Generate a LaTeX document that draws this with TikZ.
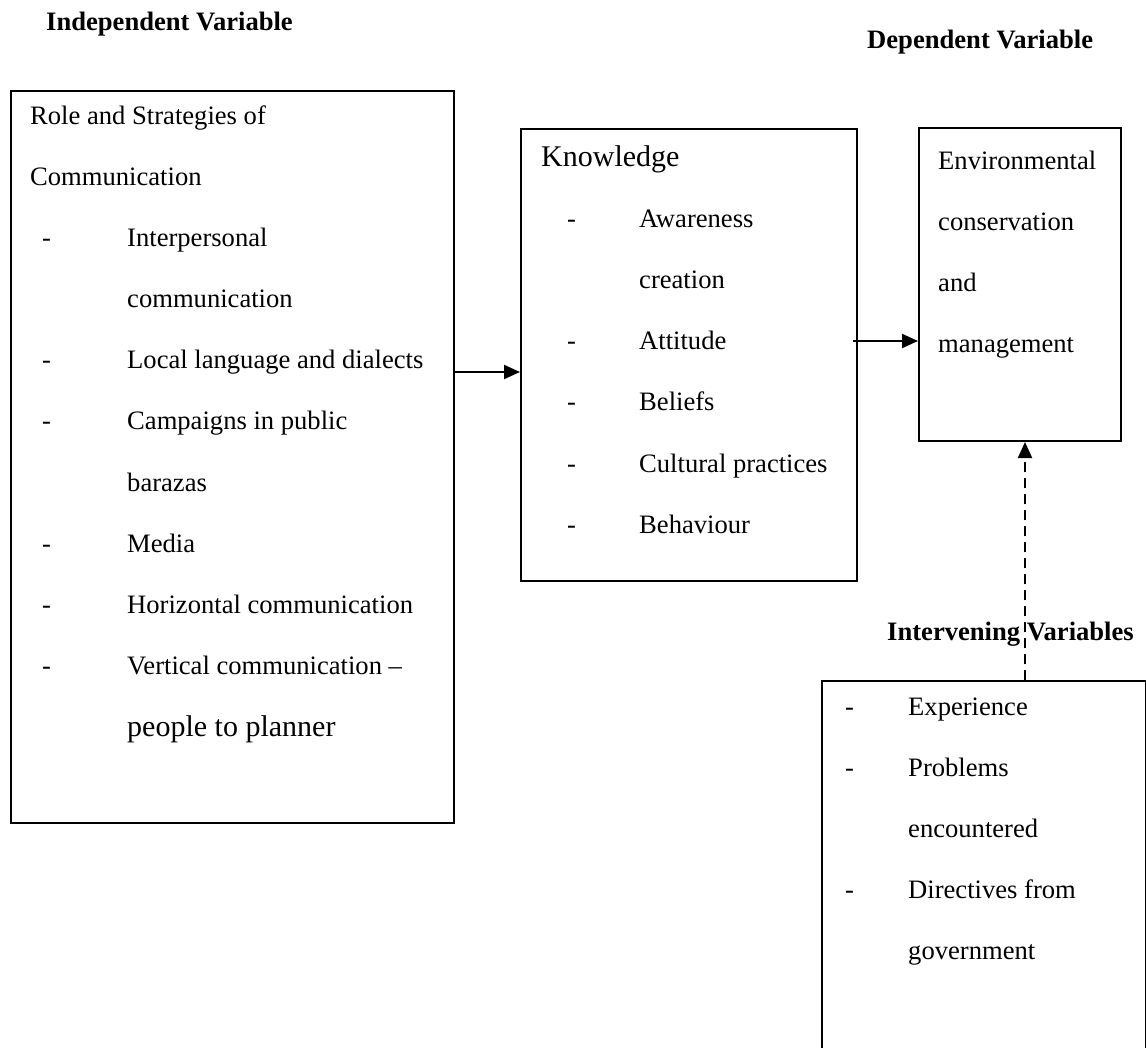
\documentclass[tikz,border=0pt]{standalone}
\usepackage{fontspec}
\setmainfont{Liberation Serif}
\usetikzlibrary{arrows.meta}
\begin{document}
\begin{tikzpicture}[x=1pt,y=-1pt,
  box/.style={draw=black,line width=2pt,rectangle,inner sep=0pt,anchor=north west},
  txt/.style={inner sep=0pt,anchor=base west,font=\fontsize{26.6}{30}\selectfont},
  big/.style={inner sep=0pt,anchor=base west,font=\fontsize{30}{34}\selectfont},
  head/.style={inner sep=0pt,anchor=base west,font=\fontsize{26.6}{30}\selectfont\bfseries},
  arr/.style={line width=2pt,-{Triangle[length=16pt,width=14pt]}},
  darr/.style={line width=2pt,dash pattern=on 10pt off 6pt,-{Triangle[length=16pt,width=14pt]}}]
\useasboundingbox (0,0) rectangle (1146,1048);
\clip (0,0) rectangle (1146,1048);
\fill[white] (0,0) rectangle (1146,1048);
% headings
\node[head] (h1) at (46,31) {Independent Variable};
\node[head] (h2) at (867,49) {Dependent Variable};
\node[head] (h3) at (887,640) {Intervening Variables};
% boxes
\node[box,minimum width=443pt,minimum height=732pt] (iv) at (10,90) {};
\node[box,minimum width=336pt,minimum height=452pt] (kn) at (520,128) {};
\node[box,minimum width=202pt,minimum height=313pt] (dv) at (918,127) {};
\node[box,minimum width=324pt,minimum height=500pt] (ib) at (821,680) {};
% left box text
\node[txt] (l1) at (30,125) {Role and Strategies of};
\node[txt] (l2) at (30,186) {Communication};
\foreach \y/\t/\d [count=\i] in {247/Interpersonal/1, 308/communication/0, 369/Local language and dialects/1, 430/Campaigns in public/1, 491/barazas/0, 552/Media/1, 613/Horizontal communication/1, 674/Vertical communication –/1}{
  \node[txt] (li\i) at (127,\y) {\t};
  \ifnum\d=1 \node[txt] (ld\i) at (42,\y) {-};\fi
}
\node[big] (li9) at (127,736) {people to planner};
% knowledge box text
\node[big] (k0) at (541,167) {Knowledge};
\foreach \y/\t/\d [count=\i] in {228/Awareness/1, 289/creation/0, 350/Attitude/1, 411/Beliefs/1, 472/Cultural practices/1, 533/Behaviour/1}{
  \node[txt] (ki\i) at (639,\y) {\t};
  \ifnum\d=1 \node[txt] (kd\i) at (567,\y) {-};\fi
}
% dependent box text
\foreach \y/\t [count=\i] in {170/Environmental, 231/conservation, 292/and, 353/management}{
  \node[txt] (d\i) at (938,\y) {\t};
}
% intervening box text
\foreach \y/\t/\d [count=\i] in {715/Experience/1, 776/Problems/1, 837/encountered/0, 898/Directives from/1, 959/government/0}{
  \node[txt] (ii\i) at (908,\y) {\t};
  \ifnum\d=1 \node[txt] (id\i) at (845,\y) {-};\fi
}
% connectors
\coordinate (a1) at (0,372);
\coordinate (a2) at (853,341);
\coordinate (a3) at (1025,0);
\draw[arr] (iv.east |- a1) -- (kn.west |- a1);
\draw[arr] (a2) -- (dv.west |- a2);
\draw[darr] (ib.north -| a3) -- (dv.south -| a3);
\end{tikzpicture}
\end{document}
